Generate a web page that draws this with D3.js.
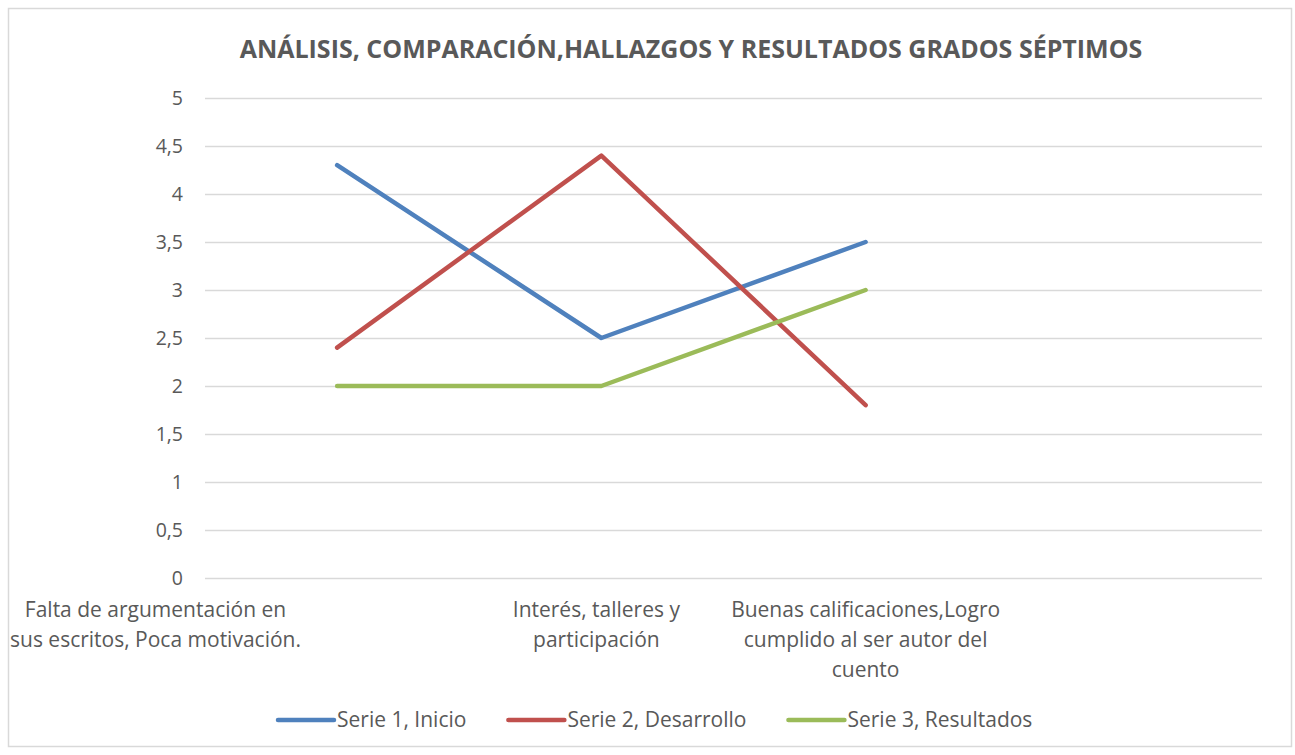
<!DOCTYPE html>
<html lang="es">
<head>
<meta charset="utf-8">
<script src="https://cdnjs.cloudflare.com/ajax/libs/d3/7.8.5/d3.min.js"></script>
<style>
  body { margin: 0; background: #fff; }
  text { font-family: "Open Sans", Lato, sans-serif; fill: #595959; }
</style>
</head>
<body>
<div id="chart"></div>
<script>
// data
var categories = [
  ["Falta de argumentación en", "sus escritos, Poca motivación."],
  ["Interés, talleres y", "participación"],
  ["Buenas calificaciones,Logro", "cumplido al ser autor del", "cuento"],
  [""]
];
var seriesNames = ["Serie 1, Inicio", "Serie 2, Desarrollo", "Serie 3, Resultados"];
var serie1 = [4.3, 2.5, 3.5];
var serie2 = [2.4, 4.4, 1.8];
var serie3 = [2, 2, 3];
var yTicks = [0, 0.5, 1, 1.5, 2, 2.5, 3, 3.5, 4, 4.5, 5];
var colors = ["#4F81BD", "#C0504D", "#9BBB59"];
var title = "ANÁLISIS, COMPARACIÓN,HALLAZGOS Y RESULTADOS GRADOS SÉPTIMOS";

(function() {
  var width = 1295, height = 755;
  var left = 205, right = 1262, top = 98, bottom = 578;

  var svg = d3.select("#chart").append("svg")
    .attr("width", width)
    .attr("height", height);

  // chart border
  svg.append("rect")
    .attr("x", 8.5).attr("y", 8.5)
    .attr("width", 1283).attr("height", 738)
    .style("fill", "#fff")
    .style("stroke", "#d9d9d9")
    .style("stroke-width", 1.5);

  svg.append("text")
    .attr("x", 691).attr("y", 58)
    .attr("text-anchor", "middle")
    .style("font-weight", "bold")
    .style("font-size", "25px")
    .text(title);

  var x = d3.scaleBand().domain(d3.range(categories.length)).range([left, right]);
  var y = d3.scaleLinear().domain([0, 5]).range([bottom, top]);
  var fmt = function(d) { return String(d).replace(".", ","); };

  // gridlines
  svg.append("g").selectAll("line")
    .data(yTicks)
    .enter().append("line")
    .attr("x1", left).attr("x2", right)
    .attr("y1", function(d) { return Math.round(y(d)) + 0.5; })
    .attr("y2", function(d) { return Math.round(y(d)) + 0.5; })
    .style("stroke", "#d9d9d9")
    .style("stroke-width", 1.5);

  // y axis labels
  svg.append("g").selectAll("text")
    .data(yTicks)
    .enter().append("text")
    .attr("x", left - 22)
    .attr("y", function(d) { return y(d) + 7; })
    .attr("text-anchor", "end")
    .style("font-size", "19.5px")
    .text(fmt);

  // category labels; the first one sits against the chart's left edge like in excel
  categories.forEach(function(lines, i) {
    var cx = x(i) + x.bandwidth() / 2 - (i === 1 ? 5 : 0);
    var t = svg.append("text")
      .style("font-size", "21px")
      .attr("text-anchor", "middle");
    var spans = lines.map(function(l, j) {
      return t.append("tspan")
        .attr("y", 617 + j * 30)
        .text(l);
    });
    var w = d3.max(spans, function(s) { return s.node().getComputedTextLength(); });
    if (i === 0) cx = 10 + w / 2;
    spans.forEach(function(s) { s.attr("x", cx); });
  });

  var line = d3.line()
    .x(function(d, i) { return x(i) + x.bandwidth() / 2; })
    .y(function(d) { return y(d); });

  [serie1, serie2, serie3].forEach(function(s, k) {
    svg.append("path")
      .datum(s)
      .attr("d", line)
      .style("fill", "none")
      .style("stroke", colors[k])
      .style("stroke-width", 4.5)
      .style("stroke-linecap", "round")
      .style("stroke-linejoin", "round");
  });

  // legend
  var lx = 278;
  seriesNames.forEach(function(name, k) {
    svg.append("line")
      .attr("x1", lx).attr("x2", lx + 56)
      .attr("y1", 720).attr("y2", 720)
      .style("stroke", colors[k])
      .style("stroke-width", 4.5)
      .style("stroke-linecap", "round");
    var t = svg.append("text")
      .attr("x", lx + 59).attr("y", 727)
      .style("font-size", "21px")
      .text(name);
    lx += 59 + t.node().getComputedTextLength() + 42;
  });
})();
</script>
</body>
</html>
